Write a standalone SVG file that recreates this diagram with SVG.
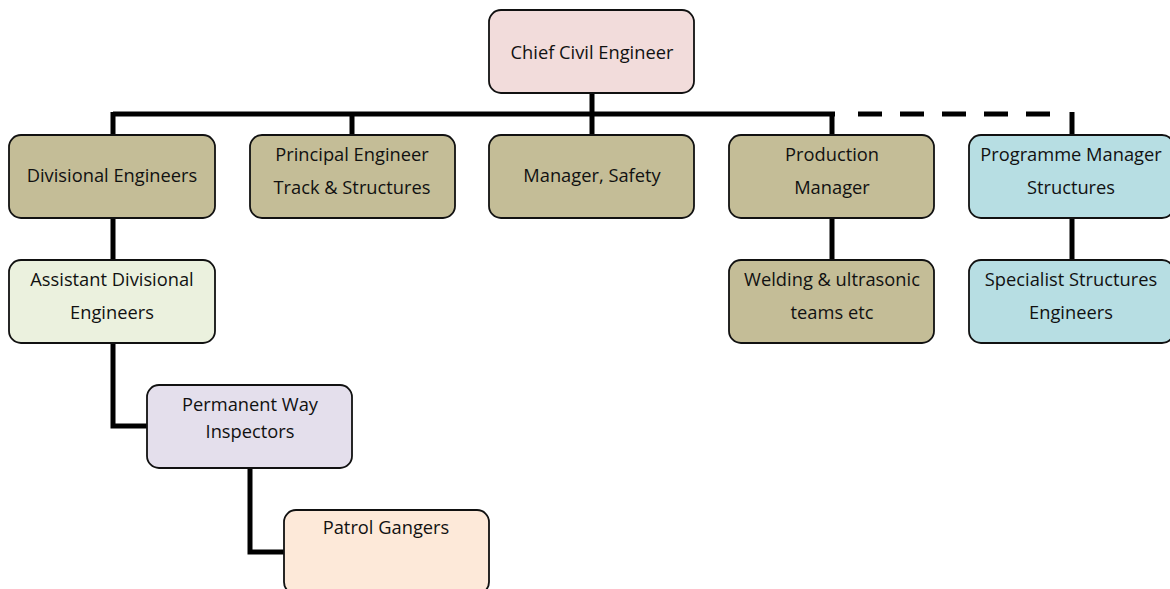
<svg xmlns="http://www.w3.org/2000/svg" width="1170" height="589" viewBox="0 0 1170 589">
<style>
.box{stroke:#111;stroke-width:1.8}
.t{font-family:"Open Sans","Noto Sans",sans-serif;font-size:18.3px;fill:#111;text-anchor:middle}
.c{fill:none;stroke:#000;stroke-width:5}
.khaki{fill:#c4bd97}
</style>
<rect width="1170" height="589" fill="#fff"/>
<g id="connectors">
<path class="c" d="M113 114 H835 M113 112 V135 M352 114 V135 M592 93 V135 M832 114 V135"/>
<path class="c" d="M858 114 H1050" stroke-dasharray="24 18"/>
<path class="c" d="M1072 112 V135"/>
<path class="c" d="M113 218 V260 M832 218 V260 M1072 218 V260"/>
<path class="c" d="M113 343 V426 H147"/>
<path class="c" d="M250 468 V552 H284"/>
</g>
<g id="chief"><rect class="box" x="489" y="10" width="205" height="83" rx="12" fill="#f2dcdb"/><text class="t" x="592" y="59">Chief Civil Engineer</text></g>
<g id="divisional"><rect class="box khaki" x="9" y="135" width="206" height="83" rx="12"/><text class="t" x="112" y="182">Divisional Engineers</text></g>
<g id="principal"><rect class="box khaki" x="250" y="135" width="205" height="83" rx="12"/><text class="t" x="352" y="161">Principal Engineer</text><text class="t" x="352" y="194">Track &amp; Structures</text></g>
<g id="safety"><rect class="box khaki" x="489" y="135" width="205" height="83" rx="12"/><text class="t" x="592" y="182">Manager, Safety</text></g>
<g id="production"><rect class="box khaki" x="729" y="135" width="205" height="83" rx="12"/><text class="t" x="832" y="161">Production</text><text class="t" x="832" y="194">Manager</text></g>
<g id="programme"><rect class="box" x="969" y="135" width="205" height="83" rx="12" fill="#b7dee3"/><text class="t" x="1071" y="161">Programme Manager</text><text class="t" x="1071" y="194">Structures</text></g>
<g id="welding"><rect class="box khaki" x="729" y="260" width="205" height="83" rx="12"/><text class="t" x="832" y="286">Welding &amp; ultrasonic</text><text class="t" x="832" y="319">teams etc</text></g>
<g id="specialist"><rect class="box" x="969" y="260" width="205" height="83" rx="12" fill="#b7dee3"/><text class="t" x="1071" y="286">Specialist Structures</text><text class="t" x="1071" y="319">Engineers</text></g>
<g id="assistant"><rect class="box" x="9" y="260" width="206" height="83" rx="12" fill="#ebf1de"/><text class="t" x="112" y="286">Assistant Divisional</text><text class="t" x="112" y="319">Engineers</text></g>
<g id="inspectors"><rect class="box" x="147" y="385" width="205" height="83" rx="12" fill="#e4dfec"/><text class="t" x="250" y="411">Permanent Way</text><text class="t" x="250" y="438">Inspectors</text></g>
<g id="patrol"><rect class="box" x="284" y="510" width="205" height="84" rx="12" fill="#fde9d9"/><text class="t" x="386" y="534">Patrol Gangers</text></g>
</svg>
